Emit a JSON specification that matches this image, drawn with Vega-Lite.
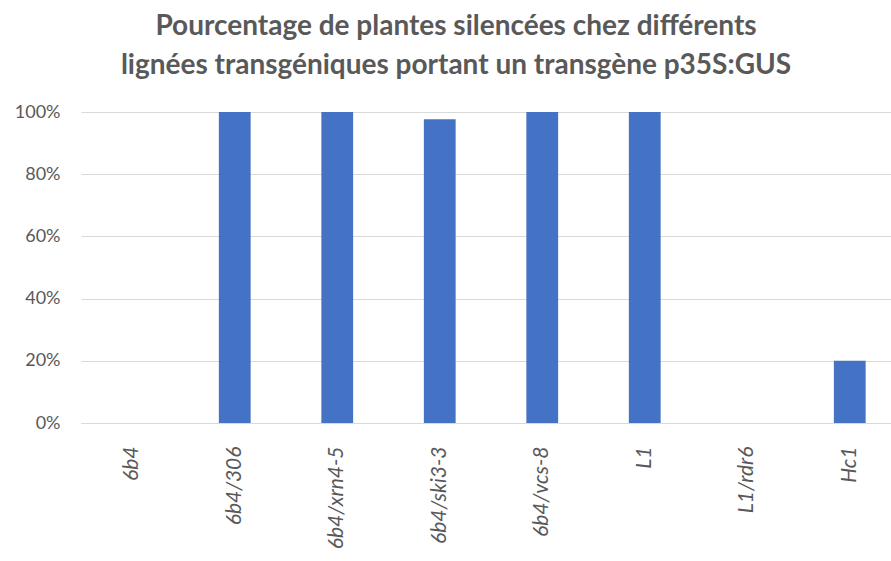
{
  "$schema": "https://vega.github.io/schema/vega-lite/v6.json",
  "width": 820,
  "height": 311,
  "autosize": {"type": "none"},
  "padding": {"left": 81, "top": 112, "right": 0, "bottom": 138},
  "background": "white",
  "title": {
    "text": ["Pourcentage de plantes silencées chez différents", "lignées transgéniques portant un transgène p35S:GUS"],
    "font": "Lato",
    "fontSize": 28,
    "fontWeight": "bold",
    "color": "#595959",
    "lineHeight": 39,
    "anchor": "middle",
    "dx": -35,
    "offset": 23
  },
  "data": {
    "values": [
      {"ligne": "6b4", "pct": 0},
      {"ligne": "6b4/306", "pct": 1.0},
      {"ligne": "6b4/xrn4-5", "pct": 1.0},
      {"ligne": "6b4/ski3-3", "pct": 0.977},
      {"ligne": "6b4/vcs-8", "pct": 1.0},
      {"ligne": "L1", "pct": 1.0},
      {"ligne": "L1/rdr6", "pct": 0},
      {"ligne": "Hc1", "pct": 0.2}
    ]
  },
  "mark": {"type": "bar", "color": "#4472C4"},
  "encoding": {
    "x": {
      "field": "ligne",
      "type": "nominal",
      "sort": null,
      "scale": {"paddingInner": 0.69, "paddingOuter": 0.345},
      "axis": {
        "title": null,
        "labelAngle": 270,
        "labelAlign": "right",
        "labelBaseline": "middle",
        "labelFont": "Lato",
        "labelFontStyle": "italic",
        "labelFontSize": 21,
        "labelColor": "#595959",
        "labelPadding": 23,
        "labelOverlap": false,
        "ticks": false,
        "domainColor": "#d9d9d9",
        "domainWidth": 1,
        "grid": false
      }
    },
    "y": {
      "field": "pct",
      "type": "quantitative",
      "scale": {"domain": [0, 1]},
      "axis": {
        "title": null,
        "format": ".0%",
        "values": [0, 0.2, 0.4, 0.6, 0.8, 1.0],
        "labelFont": "Lato",
        "labelFontSize": 18,
        "labelColor": "#595959",
        "labelPadding": 21,
        "labelOverlap": false,
        "ticks": false,
        "domain": false,
        "gridColor": "#d9d9d9",
        "gridWidth": 1
      }
    }
  },
  "config": {"view": {"stroke": null}}
}
